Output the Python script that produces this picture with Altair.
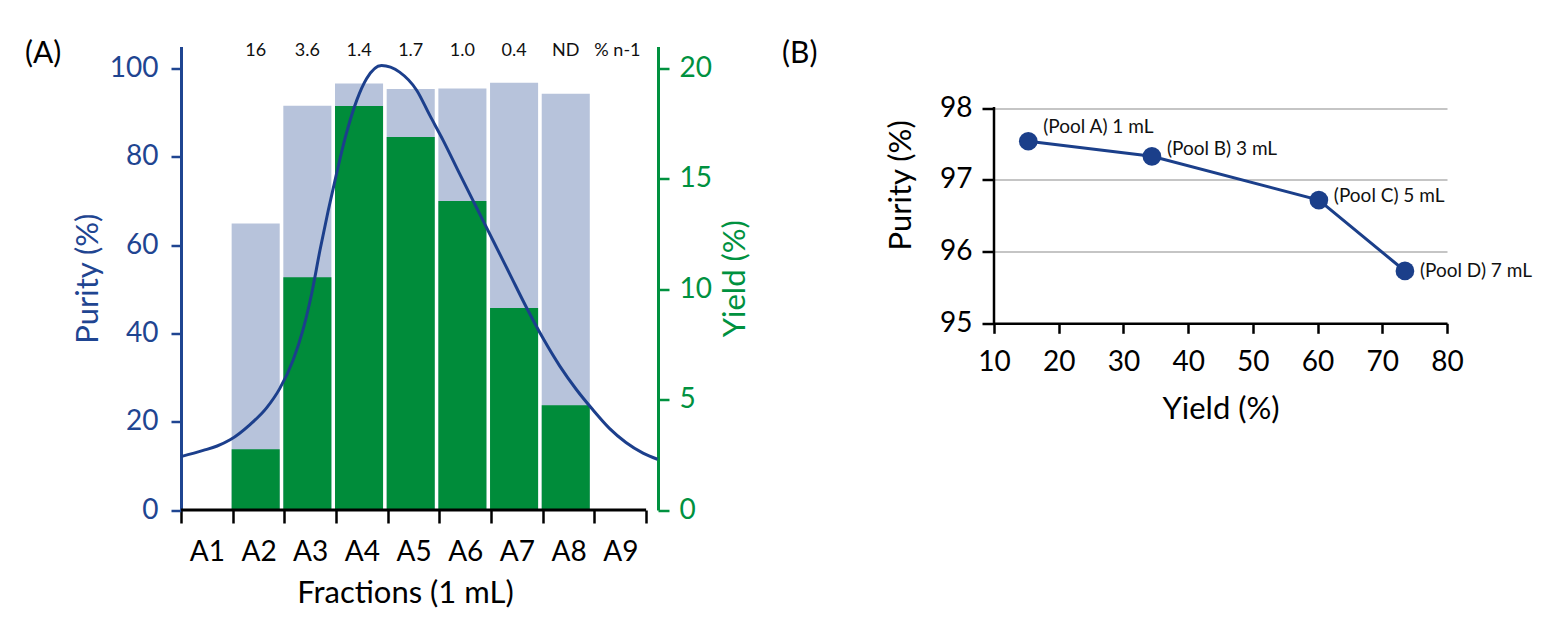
import json
import altair as alt
import pandas as pd

# ---------------- Panel A data ----------------
fractions = ["A1", "A2", "A3", "A4", "A5", "A6", "A7", "A8", "A9"]
bar_fractions = ["A2", "A3", "A4", "A5", "A6", "A7", "A8"]
purity_pct = [64.9, 91.6, 96.6, 95.4, 95.5, 96.8, 94.3]
yield_pct = [2.75, 10.55, 18.3, 16.9, 14.0, 9.15, 4.75]
impurity_fractions = ["A2", "A3", "A4", "A5", "A6", "A7", "A8", "A9"]
impurity_labels = ["16", "3.6", "1.4", "1.7", "1.0", "0.4", "ND", "% n-1"]
curve_position = [0.00, 0.43, 0.70, 0.95, 1.33, 1.66, 1.91, 2.17, 2.36, 2.53,
                  2.69, 2.85, 3.01, 3.20, 3.40, 3.59, 3.88, 4.23, 4.56, 4.81,
                  5.07, 5.39, 5.71, 6.04, 6.36, 6.68, 7.00, 7.33, 7.65, 7.97,
                  8.29, 8.61, 8.94, 9.22]
curve_purity = [12.1, 13.5, 14.5, 15.9, 19.3, 23.2, 27.5, 34.0, 40.8, 49.1,
                58.9, 67.9, 76.2, 85.3, 92.8, 97.7, 100.7, 99.2, 95.1, 89.5,
                83.8, 76.2, 68.7, 61.0, 53.5, 46.0, 39.0, 32.6, 27.3, 22.7,
                18.5, 15.3, 12.9, 11.5]
purity_ticks = [0, 20, 40, 60, 80, 100]
yield_ticks = [0, 5, 10, 15, 20]

# ---------------- Panel B data ----------------
pool_labels = ["(Pool A) 1 mL", "(Pool B) 3 mL", "(Pool C) 5 mL", "(Pool D) 7 mL"]
pool_yield = [15.3, 34.4, 60.2, 73.5]
pool_purity = [97.54, 97.33, 96.72, 95.73]
b_x_ticks = [10, 20, 30, 40, 50, 60, 70, 80]
b_y_ticks = [95, 96, 97, 98]

# ---------------- styles ----------------
BLUE_AXIS = "#1F4591"
CURVE = "#1C3F8C"
GREEN = "#008C3A"
GREEN_AXIS = "#00913F"
LIGHT = "#B7C3DB"
POINT = "#1B3F8A"
GRID = "#8C8C8C"
FONT = "Lato"

A_W, A_H = 477, 463.5
X_MAX, P_MAX, Y_MAX = 9.23, 105, 21
BAR_LEFT, BAR_RIGHT = -0.02, 0.91
B_W, B_H = 453, 276.8
B_TOP = 98.862
label_dy = [-14, -7, -4, 0]

unit = A_W / X_MAX
xs = alt.Scale(domain=[0, X_MAX], nice=False, zero=False)
ps = alt.Scale(domain=[0, P_MAX], nice=False, zero=False)
ys = alt.Scale(domain=[0, Y_MAX], nice=False, zero=False)

bar_df = pd.DataFrame({"fraction": bar_fractions, "purity": purity_pct, "yield": yield_pct})
bar_df["idx"] = [fractions.index(f) for f in bar_fractions]
bar_df["x0"] = bar_df["idx"] + BAR_LEFT
bar_df["x1"] = bar_df["idx"] + BAR_RIGHT
bar_df["zero"] = 0

lab_df = pd.DataFrame({"fraction": impurity_fractions, "label": impurity_labels})
lab_df["xc"] = [fractions.index(f) + (BAR_LEFT + BAR_RIGHT) / 2 for f in impurity_fractions]

curve_df = pd.DataFrame({"pos": curve_position, "purity": curve_purity})
rule_df = pd.DataFrame({"x0": [0], "x1": [len(fractions)], "y": [0]})

label_expr = "datum.value < %d ? %s[datum.value] : ''" % (len(fractions), json.dumps(fractions))

x_axis = alt.Axis(values=list(range(len(fractions) + 1)), labelExpr=label_expr,
                  labelOffset=unit / 2, labelFlush=False, labelOverlap=False,
                  domain=False, grid=False, tickColor="black", tickWidth=2.5, tickSize=13,
                  labelFontSize=28, labelColor="black", labelPadding=15,
                  title="Fractions (1 mL)", titleFontSize=31, titleFontWeight="normal",
                  titleColor="black", titlePadding=12, titleX=224)

purity_bars = alt.Chart(bar_df).mark_rect(color=LIGHT).encode(
    x=alt.X("x0:Q", scale=xs, axis=x_axis),
    x2="x1:Q",
    y=alt.Y("purity:Q", scale=ps, axis=alt.Axis(
        orient="left", values=purity_ticks, grid=False, domainColor=BLUE_AXIS, domainWidth=3,
        tickColor=BLUE_AXIS, tickWidth=2.5, tickSize=10, labelColor=BLUE_AXIS, labelFontSize=28,
        labelPadding=13, title="Purity (%)", titleColor=BLUE_AXIS, titleFontSize=31,
        titleFontWeight="normal", titleAngle=270, titleBaseline="bottom", titlePadding=5)),
    y2="zero:Q",
)

yield_bars = alt.Chart(bar_df).mark_rect(color=GREEN).encode(
    x=alt.X("x0:Q", scale=xs, axis=x_axis),
    x2="x1:Q",
    y=alt.Y("yield:Q", scale=ys, axis=alt.Axis(
        orient="right", values=yield_ticks, grid=False, domainColor=GREEN_AXIS, domainWidth=3,
        tickColor=GREEN_AXIS, tickWidth=2.5, tickSize=11, labelColor=GREEN_AXIS, labelFontSize=28,
        labelPadding=10, title="Yield (%)", titleColor=GREEN_AXIS, titleFontSize=31,
        titleFontWeight="normal", titleAngle=270, titleBaseline="top", titlePadding=9)),
    y2="zero:Q",
)

x_line = alt.Chart(rule_df).mark_rule(color="black", strokeWidth=3).encode(
    x=alt.X("x0:Q", scale=xs, axis=x_axis),
    x2="x1:Q",
    y=alt.Y("y:Q", scale=ps, axis=None),
)

curve = alt.Chart(curve_df).mark_line(interpolate="monotone", color=CURVE, strokeWidth=3).encode(
    x=alt.X("pos:Q", scale=xs, axis=x_axis),
    y=alt.Y("purity:Q", scale=ps, axis=None),
)

top_labels = alt.Chart(lab_df).mark_text(fontSize=18, color="#111111", baseline="middle").encode(
    x=alt.X("xc:Q", scale=xs, axis=x_axis),
    y=alt.value(4),
    text="label:N",
)

tag_a = alt.Chart(pd.DataFrame({"t": ["(A)"]})).mark_text(
    align="left", baseline="middle", fontSize=30, color="black").encode(
    x=alt.value(-156), y=alt.value(7), text="t:N")

panel_a = alt.layer(purity_bars, yield_bars, x_line, curve, top_labels, tag_a).resolve_scale(
    y="independent").properties(width=A_W, height=A_H)

# ---------------- Panel B ----------------
xb = alt.Scale(domain=[10, 80], nice=False, zero=False)
yb = alt.Scale(domain=[95, B_TOP], nice=False, zero=False)
pool_df = pd.DataFrame({"label": pool_labels, "yield": pool_yield,
                        "purity": pool_purity, "order": list(range(len(pool_labels)))})
yrule_df = pd.DataFrame({"yield": [b_x_ticks[0]], "purity": [b_y_ticks[0]], "y1": [b_y_ticks[-1]]})

bx_axis = alt.Axis(
    values=b_x_ticks, grid=False, domainColor="black", domainWidth=2.5, tickColor="black",
    tickWidth=2.5, tickSize=10, labelFontSize=28, labelColor="black", labelPadding=15,
    labelFlush=False, title="Yield (%)", titleFontSize=31, titleFontWeight="normal",
    titleColor="black", titlePadding=18)
by_axis = alt.Axis(
    values=b_y_ticks, domain=False, grid=True, gridColor=GRID, gridWidth=1.2,
    tickColor="black", tickWidth=2.5, tickSize=12, labelFontSize=28, labelColor="black",
    labelPadding=10, title="Purity (%)", titleFontSize=31, titleFontWeight="normal",
    titleColor="black", titlePadding=22, titleAngle=270, titleBaseline="bottom")

b_yline = alt.Chart(yrule_df).mark_rule(color="black", strokeWidth=2.5, strokeCap="square").encode(
    x=alt.X("yield:Q", scale=xb, axis=bx_axis),
    y=alt.Y("purity:Q", scale=yb, axis=by_axis),
    y2="y1:Q",
)

b_line = alt.Chart(pool_df).mark_line(color=POINT, strokeWidth=3).encode(
    x=alt.X("yield:Q", scale=xb, axis=bx_axis),
    y=alt.Y("purity:Q", scale=yb, axis=by_axis),
    order="order:Q",
)

b_points = alt.Chart(pool_df).mark_circle(size=350, color=POINT, opacity=1).encode(
    x=alt.X("yield:Q", scale=xb, axis=bx_axis),
    y=alt.Y("purity:Q", scale=yb, axis=by_axis),
)

b_labels = []
for lab, dy in zip(pool_labels, label_dy):
    b_labels.append(
        alt.Chart(pool_df).transform_filter(alt.datum.label == lab).mark_text(
            align="left", baseline="middle", fontSize=19, color="#111111", dx=15, dy=dy).encode(
            x=alt.X("yield:Q", scale=xb, axis=bx_axis),
            y=alt.Y("purity:Q", scale=yb, axis=by_axis),
            text="label:N",
        )
    )

tag_b = alt.Chart(pd.DataFrame({"t": ["(B)"]})).mark_text(
    align="left", baseline="middle", fontSize=30, color="black").encode(
    x=alt.value(-212), y=alt.value(7), text="t:N")

panel_b = alt.layer(b_yline, b_line, b_points, *b_labels, tag_b).properties(width=B_W, height=B_H)

chart = alt.hconcat(panel_a, panel_b, spacing=31).properties(
    padding={"left": 17, "top": 30.5, "right": 5, "bottom": 5}
).configure(font=FONT).configure_view(stroke=None)

chart.save("out.html", embed_options={"renderer": "svg", "actions": False})
